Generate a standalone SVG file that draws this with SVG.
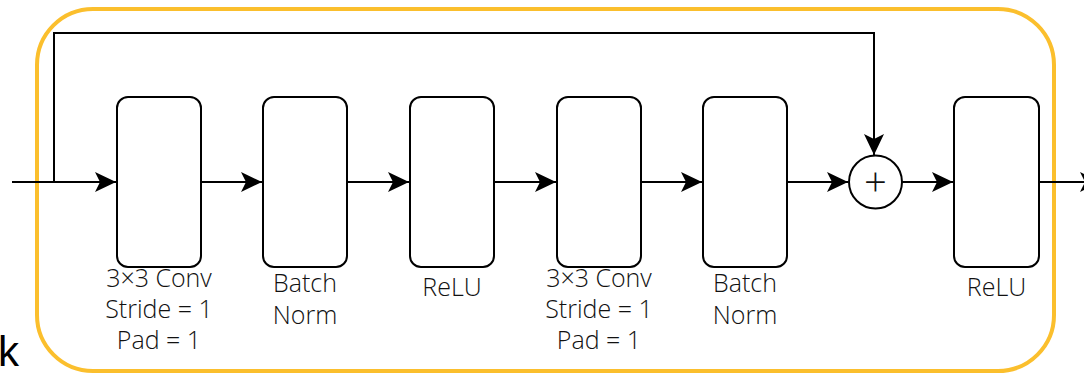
<svg xmlns="http://www.w3.org/2000/svg" width="1084" height="374" viewBox="0 0 1084 374">
<defs>
<style>
.frame{fill:none;stroke:#FBBF2D;stroke-width:4}
.box{fill:#fff;stroke:#000;stroke-width:2}
.conn{fill:none;stroke:#000;stroke-width:2}
.lbl{font-family:"Open Sans","Liberation Sans",sans-serif;font-weight:300;font-size:25px;fill:#111;text-anchor:middle}
</style>
<marker id="arr" markerUnits="userSpaceOnUse" markerWidth="24" markerHeight="22" refX="21" refY="10" orient="auto">
<path d="M0,0 L21,10 L0,20 L5,10 Z" fill="#000"/>
</marker>
</defs>
<rect width="1084" height="374" fill="#fff"/>
<rect class="frame" x="37" y="9" width="1017" height="362" rx="56" ry="56"/>
<text x="-2" y="366" font-family="Liberation Sans, sans-serif" font-size="42" fill="#000">k</text>
<g id="connectors">
<path class="conn" d="M12,182 H116" marker-end="url(#arr)"/>
<path class="conn" d="M54,182 V33 H874 V155" marker-end="url(#arr)"/>
<path class="conn" d="M201,182 H262" marker-end="url(#arr)"/>
<path class="conn" d="M347,182 H409" marker-end="url(#arr)"/>
<path class="conn" d="M494,182 H556" marker-end="url(#arr)"/>
<path class="conn" d="M641,182 H702" marker-end="url(#arr)"/>
<path class="conn" d="M787,182 H848" marker-end="url(#arr)"/>
<path class="conn" d="M902,182 H953" marker-end="url(#arr)"/>
<path class="conn" d="M1039,182 H1101" marker-end="url(#arr)"/>
</g>
<g id="conv1">
<rect class="box" x="117" y="97" width="84" height="170" rx="11"/>
<text class="lbl" x="159" y="287">3×3 Conv</text>
<text class="lbl" x="159" y="318">Stride = 1</text>
<text class="lbl" x="159" y="349">Pad = 1</text>
</g>
<g id="bn1">
<rect class="box" x="263" y="97" width="84" height="170" rx="11"/>
<text class="lbl" x="305" y="292">Batch</text>
<text class="lbl" x="305" y="324">Norm</text>
</g>
<g id="relu1">
<rect class="box" x="410" y="97" width="84" height="170" rx="11"/>
<text class="lbl" x="452" y="296">ReLU</text>
</g>
<g id="conv2">
<rect class="box" x="557" y="97" width="84" height="170" rx="11"/>
<text class="lbl" x="599" y="287">3×3 Conv</text>
<text class="lbl" x="599" y="318">Stride = 1</text>
<text class="lbl" x="599" y="349">Pad = 1</text>
</g>
<g id="bn2">
<rect class="box" x="703" y="97" width="84" height="170" rx="11"/>
<text class="lbl" x="745" y="292">Batch</text>
<text class="lbl" x="745" y="324">Norm</text>
</g>
<g id="add">
<circle class="box" cx="875.5" cy="182" r="26.5"/>
<text class="lbl" x="875.5" y="196" style="font-size:40px">+</text>
</g>
<g id="relu2">
<rect class="box" x="954" y="97" width="85" height="170" rx="11"/>
<text class="lbl" x="996.5" y="296">ReLU</text>
</g>
</svg>
